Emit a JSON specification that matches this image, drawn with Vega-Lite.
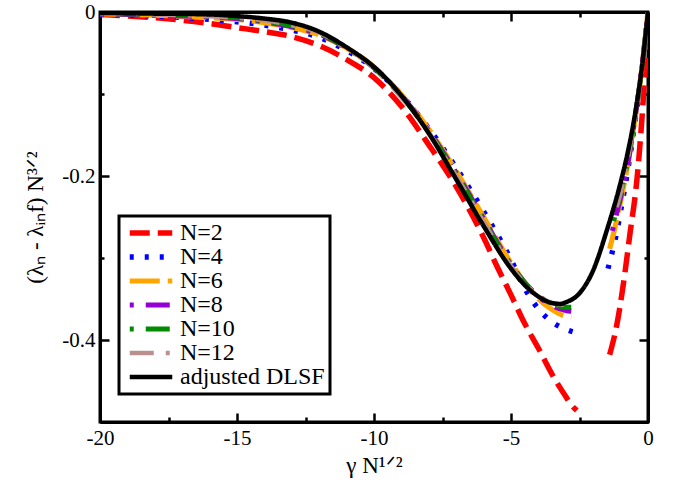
{
  "$schema": "https://vega.github.io/schema/vega-lite/v6.json",
  "autosize": "none",
  "padding": {"left": 100, "top": 12, "right": 25, "bottom": 67},
  "width": 548,
  "height": 410,
  "config": {
    "view": {"stroke": "black", "strokeWidth": 3},
    "font": "Liberation Serif, Times New Roman, serif",
    "axis": {"grid": false, "labelFont": "Liberation Serif, Times New Roman, serif", "titleFont": "Liberation Serif, Times New Roman, serif", "labelColor": "black", "titleColor": "black", "domainColor": "black", "domainWidth": 3, "tickColor": "black", "tickWidth": 2.5, "labelFontSize": 21, "titleFontSize": 23, "titleFontWeight": "normal"},
    "legend": {"labelFont": "Liberation Serif, Times New Roman, serif", "strokeColor": "black", "strokeWidth": 3}
  },
  "data": {"values": [
    {"s":"N=2","b":"L","x":-20,"y":-0.003},{"s":"N=2","b":"L","x":-18,"y":-0.007},{"s":"N=2","b":"L","x":-16,"y":-0.014},{"s":"N=2","b":"L","x":-15,"y":-0.019},{"s":"N=2","b":"L","x":-14,"y":-0.024},{"s":"N=2","b":"L","x":-13,"y":-0.03},{"s":"N=2","b":"L","x":-12,"y":-0.041},{"s":"N=2","b":"L","x":-11,"y":-0.058},{"s":"N=2","b":"L","x":-10,"y":-0.08},{"s":"N=2","b":"L","x":-9,"y":-0.115},{"s":"N=2","b":"L","x":-8,"y":-0.162},{"s":"N=2","b":"L","x":-7,"y":-0.213},{"s":"N=2","b":"L","x":-6,"y":-0.275},{"s":"N=2","b":"L","x":-5.5,"y":-0.311},{"s":"N=2","b":"L","x":-5,"y":-0.345},{"s":"N=2","b":"L","x":-4.5,"y":-0.38},{"s":"N=2","b":"L","x":-4,"y":-0.41},{"s":"N=2","b":"L","x":-3.5,"y":-0.442},{"s":"N=2","b":"L","x":-3,"y":-0.469},{"s":"N=2","b":"L","x":-2.8,"y":-0.479},{"s":"N=2","b":"L","x":-2.6,"y":-0.486},
    {"s":"N=2","b":"R","x":-1.4,"y":-0.418},{"s":"N=2","b":"R","x":-1.13,"y":-0.38},{"s":"N=2","b":"R","x":-0.9,"y":-0.332},{"s":"N=2","b":"R","x":-0.66,"y":-0.271},{"s":"N=2","b":"R","x":-0.4,"y":-0.203},{"s":"N=2","b":"R","x":-0.2,"y":-0.12},{"s":"N=2","b":"R","x":0,"y":-0.01},
    {"s":"N=4","b":"L","x":-20,"y":-0.003},{"s":"N=4","b":"L","x":-18,"y":-0.005},{"s":"N=4","b":"L","x":-16,"y":-0.009},{"s":"N=4","b":"L","x":-15,"y":-0.012},{"s":"N=4","b":"L","x":-14,"y":-0.016},{"s":"N=4","b":"L","x":-13,"y":-0.022},{"s":"N=4","b":"L","x":-12,"y":-0.031},{"s":"N=4","b":"L","x":-11,"y":-0.047},{"s":"N=4","b":"L","x":-10,"y":-0.069},{"s":"N=4","b":"L","x":-9,"y":-0.101},{"s":"N=4","b":"L","x":-8,"y":-0.142},{"s":"N=4","b":"L","x":-7,"y":-0.19},{"s":"N=4","b":"L","x":-6,"y":-0.243},{"s":"N=4","b":"L","x":-5,"y":-0.302},{"s":"N=4","b":"L","x":-4.5,"y":-0.337},{"s":"N=4","b":"L","x":-4,"y":-0.362},{"s":"N=4","b":"L","x":-3.5,"y":-0.378},{"s":"N=4","b":"L","x":-3,"y":-0.387},{"s":"N=4","b":"L","x":-2.75,"y":-0.39},
    {"s":"N=4","b":"R","x":-1.46,"y":-0.313},{"s":"N=4","b":"R","x":-1.3,"y":-0.292},{"s":"N=4","b":"R","x":-1.15,"y":-0.27},{"s":"N=4","b":"R","x":-1,"y":-0.243},{"s":"N=4","b":"R","x":-0.85,"y":-0.215},{"s":"N=4","b":"R","x":-0.7,"y":-0.185},{"s":"N=4","b":"R","x":-0.5,"y":-0.14},{"s":"N=4","b":"R","x":-0.25,"y":-0.078},{"s":"N=4","b":"R","x":0,"y":0},
    {"s":"N=6","b":"L","x":-20,"y":-0.002},{"s":"N=6","b":"L","x":-18,"y":-0.004},{"s":"N=6","b":"L","x":-16,"y":-0.007},{"s":"N=6","b":"L","x":-15,"y":-0.009},{"s":"N=6","b":"L","x":-14,"y":-0.013},{"s":"N=6","b":"L","x":-13,"y":-0.019},{"s":"N=6","b":"L","x":-12,"y":-0.028},{"s":"N=6","b":"L","x":-11,"y":-0.044},{"s":"N=6","b":"L","x":-10,"y":-0.067},{"s":"N=6","b":"L","x":-9,"y":-0.101},{"s":"N=6","b":"L","x":-8,"y":-0.143},{"s":"N=6","b":"L","x":-7,"y":-0.194},{"s":"N=6","b":"L","x":-6,"y":-0.25},{"s":"N=6","b":"L","x":-5,"y":-0.306},{"s":"N=6","b":"L","x":-4.5,"y":-0.33},{"s":"N=6","b":"L","x":-4,"y":-0.35},{"s":"N=6","b":"L","x":-3.5,"y":-0.363},{"s":"N=6","b":"L","x":-3,"y":-0.371},{"s":"N=6","b":"L","x":-2.8,"y":-0.372},
    {"s":"N=6","b":"R","x":-1.4,"y":-0.289},{"s":"N=6","b":"R","x":-1.2,"y":-0.262},{"s":"N=6","b":"R","x":-1,"y":-0.231},{"s":"N=6","b":"R","x":-0.75,"y":-0.188},{"s":"N=6","b":"R","x":-0.5,"y":-0.136},{"s":"N=6","b":"R","x":-0.25,"y":-0.076},{"s":"N=6","b":"R","x":0,"y":0},
    {"s":"N=8","b":"L","x":-20,"y":-0.002},{"s":"N=8","b":"L","x":-18,"y":-0.004},{"s":"N=8","b":"L","x":-16,"y":-0.006},{"s":"N=8","b":"L","x":-15,"y":-0.008},{"s":"N=8","b":"L","x":-14,"y":-0.012},{"s":"N=8","b":"L","x":-13,"y":-0.018},{"s":"N=8","b":"L","x":-12,"y":-0.027},{"s":"N=8","b":"L","x":-11,"y":-0.044},{"s":"N=8","b":"L","x":-10,"y":-0.068},{"s":"N=8","b":"L","x":-9,"y":-0.102},{"s":"N=8","b":"L","x":-8,"y":-0.145},{"s":"N=8","b":"L","x":-7,"y":-0.196},{"s":"N=8","b":"L","x":-6,"y":-0.252},{"s":"N=8","b":"L","x":-5,"y":-0.308},{"s":"N=8","b":"L","x":-4.5,"y":-0.33},{"s":"N=8","b":"L","x":-4,"y":-0.347},{"s":"N=8","b":"L","x":-3.5,"y":-0.358},{"s":"N=8","b":"L","x":-3,"y":-0.364},{"s":"N=8","b":"L","x":-2.8,"y":-0.365},
    {"s":"N=8","b":"R","x":-1.3,"y":-0.267},{"s":"N=8","b":"R","x":-1.1,"y":-0.24},{"s":"N=8","b":"R","x":-0.9,"y":-0.212},{"s":"N=8","b":"R","x":-0.7,"y":-0.178},{"s":"N=8","b":"R","x":-0.5,"y":-0.134},{"s":"N=8","b":"R","x":-0.25,"y":-0.076},{"s":"N=8","b":"R","x":0,"y":0},
    {"s":"N=10","b":"L","x":-20,"y":-0.002},{"s":"N=10","b":"L","x":-18,"y":-0.003},{"s":"N=10","b":"L","x":-16,"y":-0.005},{"s":"N=10","b":"L","x":-15,"y":-0.007},{"s":"N=10","b":"L","x":-14,"y":-0.011},{"s":"N=10","b":"L","x":-13,"y":-0.017},{"s":"N=10","b":"L","x":-12,"y":-0.026},{"s":"N=10","b":"L","x":-11,"y":-0.044},{"s":"N=10","b":"L","x":-10,"y":-0.068},{"s":"N=10","b":"L","x":-9,"y":-0.103},{"s":"N=10","b":"L","x":-8,"y":-0.146},{"s":"N=10","b":"L","x":-7,"y":-0.198},{"s":"N=10","b":"L","x":-6,"y":-0.254},{"s":"N=10","b":"L","x":-5,"y":-0.309},{"s":"N=10","b":"L","x":-4.5,"y":-0.33},{"s":"N=10","b":"L","x":-4,"y":-0.346},{"s":"N=10","b":"L","x":-3.5,"y":-0.356},{"s":"N=10","b":"L","x":-3,"y":-0.36},{"s":"N=10","b":"L","x":-2.8,"y":-0.36},
    {"s":"N=10","b":"R","x":-1.25,"y":-0.255},{"s":"N=10","b":"R","x":-1.05,"y":-0.228},{"s":"N=10","b":"R","x":-0.85,"y":-0.2},{"s":"N=10","b":"R","x":-0.65,"y":-0.165},{"s":"N=10","b":"R","x":-0.45,"y":-0.124},{"s":"N=10","b":"R","x":-0.25,"y":-0.075},{"s":"N=10","b":"R","x":0,"y":0},
    {"s":"N=12","b":"L","x":-20,"y":-0.001},{"s":"N=12","b":"L","x":-18,"y":-0.003},{"s":"N=12","b":"L","x":-16,"y":-0.005},{"s":"N=12","b":"L","x":-15,"y":-0.007},{"s":"N=12","b":"L","x":-14,"y":-0.01},{"s":"N=12","b":"L","x":-13,"y":-0.016},{"s":"N=12","b":"L","x":-12,"y":-0.025},{"s":"N=12","b":"L","x":-11,"y":-0.044},{"s":"N=12","b":"L","x":-10,"y":-0.068},{"s":"N=12","b":"L","x":-9,"y":-0.104},{"s":"N=12","b":"L","x":-8,"y":-0.147},{"s":"N=12","b":"L","x":-7,"y":-0.2},{"s":"N=12","b":"L","x":-6,"y":-0.256},{"s":"N=12","b":"L","x":-5,"y":-0.31},{"s":"N=12","b":"L","x":-4.5,"y":-0.331},{"s":"N=12","b":"L","x":-4,"y":-0.346},{"s":"N=12","b":"L","x":-3.5,"y":-0.355},{"s":"N=12","b":"L","x":-3,"y":-0.357},{"s":"N=12","b":"L","x":-2.8,"y":-0.356},
    {"s":"N=12","b":"R","x":-1.15,"y":-0.238},{"s":"N=12","b":"R","x":-0.95,"y":-0.213},{"s":"N=12","b":"R","x":-0.75,"y":-0.18},{"s":"N=12","b":"R","x":-0.5,"y":-0.133},{"s":"N=12","b":"R","x":-0.25,"y":-0.075},{"s":"N=12","b":"R","x":0,"y":0},
    {"s":"adjusted DLSF","b":"L","x":-20,"y":-0.001},{"s":"adjusted DLSF","b":"L","x":-18,"y":-0.002},{"s":"adjusted DLSF","b":"L","x":-16,"y":-0.003},{"s":"adjusted DLSF","b":"L","x":-15,"y":-0.005},{"s":"adjusted DLSF","b":"L","x":-14,"y":-0.008},{"s":"adjusted DLSF","b":"L","x":-13,"y":-0.013},{"s":"adjusted DLSF","b":"L","x":-12,"y":-0.024},{"s":"adjusted DLSF","b":"L","x":-11,"y":-0.043},{"s":"adjusted DLSF","b":"L","x":-10,"y":-0.067},{"s":"adjusted DLSF","b":"L","x":-9,"y":-0.102},{"s":"adjusted DLSF","b":"L","x":-8,"y":-0.148},{"s":"adjusted DLSF","b":"L","x":-7,"y":-0.204},{"s":"adjusted DLSF","b":"L","x":-6,"y":-0.261},{"s":"adjusted DLSF","b":"L","x":-5,"y":-0.313},{"s":"adjusted DLSF","b":"L","x":-4.5,"y":-0.333},{"s":"adjusted DLSF","b":"L","x":-4,"y":-0.347},{"s":"adjusted DLSF","b":"L","x":-3.5,"y":-0.355},{"s":"adjusted DLSF","b":"L","x":-3.2,"y":-0.356},{"s":"adjusted DLSF","b":"L","x":-3,"y":-0.354},{"s":"adjusted DLSF","b":"L","x":-2.5,"y":-0.343},{"s":"adjusted DLSF","b":"L","x":-2,"y":-0.315},{"s":"adjusted DLSF","b":"L","x":-1.5,"y":-0.266},{"s":"adjusted DLSF","b":"L","x":-1,"y":-0.208},{"s":"adjusted DLSF","b":"L","x":-0.75,"y":-0.173},{"s":"adjusted DLSF","b":"L","x":-0.5,"y":-0.13},{"s":"adjusted DLSF","b":"L","x":-0.25,"y":-0.075},{"s":"adjusted DLSF","b":"L","x":0,"y":0}
  ]},
  "layer": [
    {
      "mark": {"type": "line", "interpolate": "monotone", "strokeCap": "butt", "clip": true},
      "encoding": {
        "x": {"field": "x", "type": "quantitative", "scale": {"domain": [-20, 0], "nice": false, "zero": false},
          "axis": {"orient": "bottom", "values": [-20,-17.5,-15,-12.5,-10,-7.5,-5,-2.5,0], "labelExpr": "datum.value % 5 === 0 ? (datum.value < 0 ? '-' + abs(datum.value) : '0') : ''",
            "tickSize": {"condition": {"test": "datum.value % 5 === 0", "value": -9}, "value": -5}, "labelPadding": 14, "labelFlush": false, "title": "γ N¹ᐟ²", "titlePadding": 6}},
        "y": {"field": "y", "type": "quantitative", "scale": {"domain": [-0.5, 0], "nice": false, "zero": false},
          "axis": {"orient": "left", "values": [-0.5,-0.4,-0.3,-0.2,-0.1,0], "labelExpr": "datum.value === 0 ? '0' : (abs(round(datum.value*10)) % 2 === 0 ? '-' + format(abs(datum.value), '.1f') : '')",
            "tickSize": {"condition": {"test": "abs(round(datum.value*10)) % 2 === 0", "value": -9}, "value": -4}, "labelPadding": 14, "labelFlush": false, "title": "(λₙ - λᵢₙf) N³ᐟ²", "titlePadding": 14}},
        "color": {"field": "s", "type": "nominal", "scale": {"domain": ["N=2","N=4","N=6","N=8","N=10","N=12","adjusted DLSF"], "range": ["#ff0000","#0000ff","#ffa500","#9400d3","#008b00","#bc8f8f","#000000"]},
          "legend": {"title": null, "orient": "none", "legendX": 19, "legendY": 204, "symbolType": "M-2.5,0H2.5", "symbolSize": 289, "symbolOffset": 15, "labelFontSize": 24, "labelColor": "black", "fillColor": "white", "padding": 5, "labelOffset": 17, "rowPadding": -1}},
        "strokeDash": {"field": "s", "type": "nominal", "scale": {"domain": ["N=2","N=4","N=6","N=8","N=10","N=12","adjusted DLSF"], "range": [[20,8],[4,11],[30,8],[4,12,24,12],[4,12,24,12],[24,12,4,12],[1,0]]}},
        "strokeWidth": {"field": "s", "type": "nominal", "scale": {"domain": ["N=2","N=4","N=6","N=8","N=10","N=12","adjusted DLSF"], "range": [5.5,4.5,4.5,4.5,4.5,4.5,7]}},
        "detail": {"field": "b"},
        "order": {"field": "x", "type": "quantitative"}
      }
    },
    {
      "data": {"values": [{"x": -20, "y": -0.5}, {"x": 0, "y": 0}]},
      "mark": {"type": "point", "opacity": 0},
      "encoding": {
        "x": {"field": "x", "type": "quantitative", "scale": {"domain": [-20, 0], "nice": false, "zero": false},
          "axis": {"orient": "top", "values": [-20,-17.5,-15,-12.5,-10,-7.5,-5,-2.5,0], "labels": false, "title": null,
            "tickSize": {"condition": {"test": "datum.value % 5 === 0", "value": -9}, "value": -5}}},
        "y": {"field": "y", "type": "quantitative", "scale": {"domain": [-0.5, 0], "nice": false, "zero": false},
          "axis": {"orient": "right", "values": [-0.5,-0.4,-0.3,-0.2,-0.1,0], "labels": false, "title": null,
            "tickSize": {"condition": {"test": "abs(round(datum.value*10)) % 2 === 0", "value": -9}, "value": -4}}}
      }
    }
  ],
  "resolve": {"scale": {"x": "independent", "y": "independent"}}
}
